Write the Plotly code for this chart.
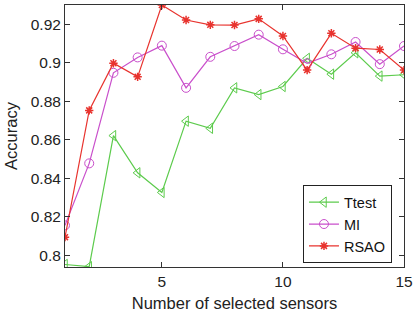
import plotly.graph_objects as go

x = list(range(1, 16))
ttest = [0.7953, 0.7942, 0.8622, 0.8429, 0.8327, 0.8697, 0.8660, 0.8870, 0.8835, 0.8877,
         0.9023, 0.8941, 0.9052, 0.8931, 0.8938]
mi = [0.8156, 0.8478, 0.8948, 0.9028, 0.9089, 0.8870, 0.9031, 0.9087, 0.9146, 0.9070,
      0.8997, 0.9044, 0.9108, 0.8993, 0.9087]
rsao = [0.8095, 0.8753, 0.8998, 0.8927, 0.9300, 0.9222, 0.9197, 0.9196, 0.9228, 0.9139,
        0.8962, 0.9153, 0.9076, 0.9069, 0.8962]

FONT = "Liberation Sans, Arial, Helvetica"

fig = go.Figure()
fig.add_trace(go.Scatter(x=x, y=ttest, name="Ttest", mode="lines+markers",
                         line=dict(color="#5CCB4C", width=1.2),
                         marker=dict(symbol="triangle-left-open", size=9, color="#5CCB4C", line=dict(width=1))))
fig.add_trace(go.Scatter(x=x, y=mi, name="MI", mode="lines+markers",
                         line=dict(color="#C94FCB", width=1.2),
                         marker=dict(symbol="circle-open", size=9, color="#C94FCB", line=dict(width=1))))
fig.add_trace(go.Scatter(x=x, y=rsao, name="RSAO", mode="lines+markers",
                         line=dict(color="#E8332E", width=1.2),
                         marker=dict(symbol="asterisk-open", size=7, color="#E8332E", line=dict(width=1.5))))

axis_common = dict(showgrid=False, zeroline=False, showline=True, linecolor="#333", linewidth=1,
                   mirror="ticks", ticks="inside", ticklen=5, tickcolor="#333", automargin=False,
                   tickfont=dict(family=FONT, size=15.5, color="#222"))
fig.update_xaxes(range=[1, 15], tickvals=[5, 10, 15], title=dict(text="Number of selected sensors",
                 font=dict(family=FONT, size=16.5, color="#222"), standoff=8), **axis_common)
fig.update_yaxes(range=[0.794, 0.930], tickvals=[0.8, 0.82, 0.84, 0.86, 0.88, 0.9, 0.92],
                 ticktext=["0.8", "0.82", "0.84", "0.86", "0.88", "0.9", "0.92"],
                 title=dict(text="Accuracy", font=dict(family=FONT, size=16.5, color="#222"), standoff=8),
                 **axis_common)

fig.update_layout(width=413, height=320, margin=dict(l=65, r=9, t=5, b=53),
                  plot_bgcolor="white", paper_bgcolor="white",
                  legend=dict(x=0.702, y=0.312, xanchor="left", yanchor="top",
                              bgcolor="white", bordercolor="#222", borderwidth=1,
                              font=dict(family=FONT, size=14.5, color="#111"),
                              tracegroupgap=0, itemwidth=30))

fig.write_html("out.html", config={"displayModeBar": False},
               post_script="document.body.style.margin='0';")
